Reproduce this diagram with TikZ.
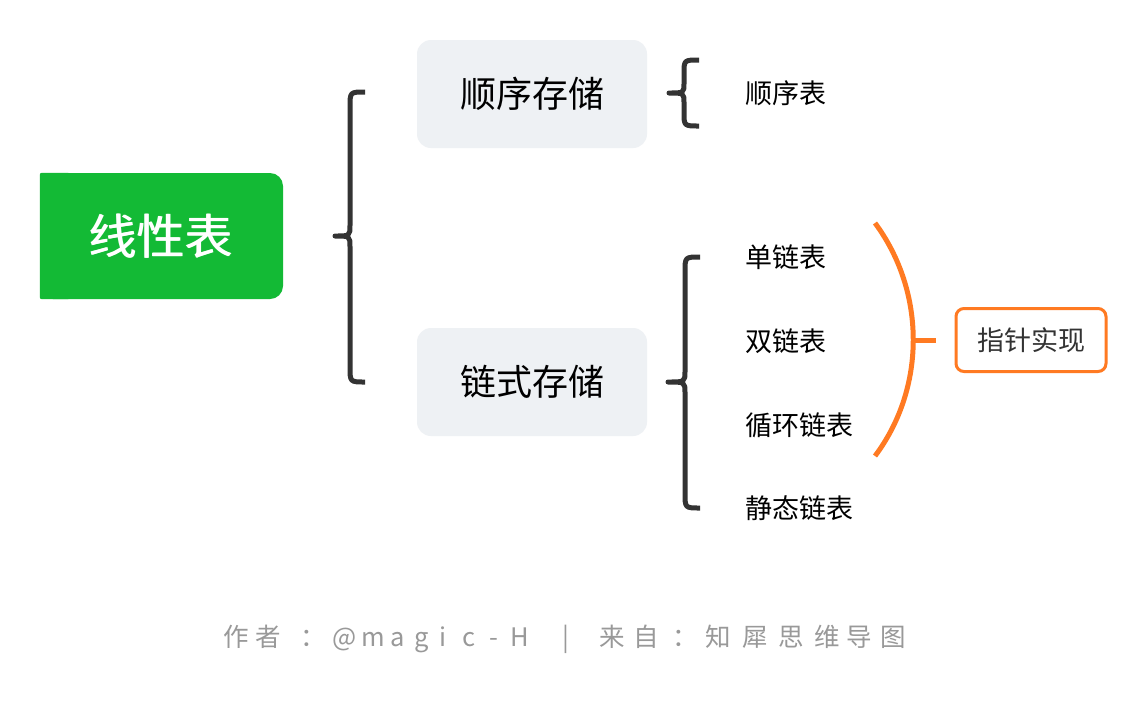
\documentclass[tikz,border=0pt]{standalone}
\usepackage{fontspec}
\setmainfont{Noto Sans CJK SC}
\definecolor{rootgreen}{HTML}{13BA35}
\definecolor{boxgray}{HTML}{EEF1F4}
\definecolor{bracegray}{HTML}{333333}
\definecolor{ptrorange}{HTML}{FF7A22}
\definecolor{footgray}{HTML}{999999}
\definecolor{ptrtext}{HTML}{333333}
\begin{document}
\begin{tikzpicture}[x=1pt,y=-1pt,
  rootbox/.style={fill=rootgreen, rounded corners=13pt, minimum width=243pt, minimum height=126pt, inner sep=0pt, text=white, font=\fontsize{48}{52}\selectfont},
  catbox/.style={fill=boxgray, rounded corners=14pt, minimum width=230pt, minimum height=108pt, inner sep=0pt, text=black, font=\fontsize{36}{40}\selectfont},
  leaf/.style={anchor=west, inner sep=0pt, text=black, font=\fontsize{27}{30}\selectfont},
  ptrbox/.style={draw=ptrorange, line width=3pt, rounded corners=8pt, fill=white, minimum width=150pt, minimum height=63pt, inner sep=0pt, text=ptrtext, font=\fontsize{27}{30}\selectfont},
  brace/.style={draw=bracegray, line width=5pt, line cap=butt, line join=round},
  orangeline/.style={draw=ptrorange, line width=5pt, line cap=butt},
  footer/.style={anchor=base, inner sep=0pt, text=footgray, font=\fontsize{25.5}{28}\selectfont}
]
\useasboundingbox (0,0) rectangle (1148,702);
\fill[white] (0,0) rectangle (1148,702);

% root
\node[rootbox] (root) at (161.5,236) {线性表};
\fill[rootgreen, rounded corners=2pt] (root.north west) rectangle ([xshift=30pt]root.south west);
\node[rootbox, fill=none] (roottext) at (160,236) {线性表};

% categories
\node[catbox] (seq) at (532,94) {顺序存储};
\node[catbox] (link) at (532,382) {链式存储};

% leaves
\node[leaf] (l0) at (745,93) {顺序表};
\node[leaf] (l1) at (745,257) {单链表};
\node[leaf] (l2) at (745,341) {双链表};
\node[leaf] (l3) at (745,425) {循环链表};
\node[leaf] (l4) at (745,508) {静态链表};

% pointer box
\node[ptrbox] (ptr) at (1031,340) {指针实现};

% big brace
\draw[brace] (365,92) .. controls (350,92) .. (350,107) -- (350,225)
  .. controls (350,236) .. (335,236) .. controls (350,236) .. (350,247)
  -- (350,367) .. controls (350,382) .. (365,382);

% small brace (sequential)
\draw[brace] (699,60) .. controls (684,60) .. (684,74) -- (684,83)
  .. controls (684,93) .. (669,93) .. controls (684,93) .. (684,103)
  -- (684,112) .. controls (684,126) .. (699,126);

% brace (linked)
\draw[brace] (700,257) .. controls (685,257) .. (685,272) -- (685,371)
  .. controls (685,382) .. (668,382) .. controls (685,382) .. (685,393)
  -- (685,493) .. controls (685,508) .. (700,508);

% orange summary arc
\coordinate (arctop) at (875,223);
\coordinate (arcbot) at (875,456);
\coordinate (arcmid) at (912,340);
\coordinate (stubend) at (936,340);
\draw[orangeline] (arctop) .. controls (926,292) and (926,388) .. (arcbot);
\draw[orangeline] (arcmid) -- (stubend);

% footer (letter-spaced credit line)
\foreach \ch/\xx [count=\i] in {作/236.5, 者/268, ：/313, @/345, m/373, a/398, g/422, i/443, c/469, -/494, H/520, |/566, 来/612, 自/646, ：/685, 知/718, 犀/755, 思/791, 维/827, 导/859, 图/893}
  \node[footer] (f\i) at (\xx,646) {\ch};
\end{tikzpicture}
\end{document}
